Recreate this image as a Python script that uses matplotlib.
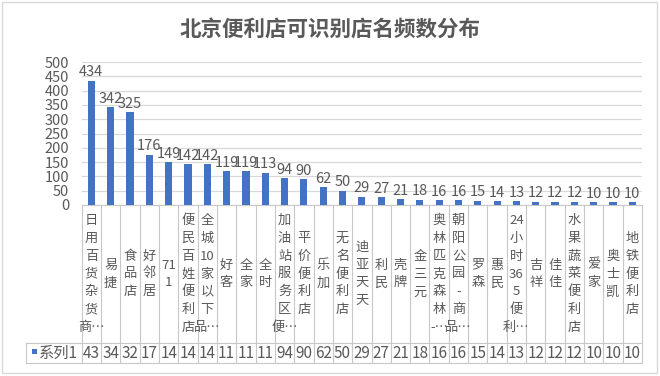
import matplotlib
matplotlib.use("Agg")
import matplotlib.pyplot as plt
from matplotlib.patches import Rectangle
from matplotlib.lines import Line2D
from matplotlib.transforms import blended_transform_factory

# ---- data ----
title = "北京便利店可识别店名频数分布"
series_name = "系列1"
# category labels as Excel wraps them inside the data-table cells
categories = [
    "日\n用\n百\n货\n杂\n货\n商…", "易\n捷", "食\n品\n店", "好\n邻\n居", "71\n1",
    "便\n民\n百\n姓\n便\n利\n店", "全\n城\n10\n家\n以\n下\n品…", "好\n客", "全\n家", "全\n时",
    "加\n油\n站\n服\n务\n区\n便…", "平\n价\n便\n利\n店", "乐\n加", "无\n名\n便\n利\n店", "迪\n亚\n天\n天",
    "利\n民", "壳\n牌", "金\n三\n元", "奥\n林\n匹\n克\n森\n林\n-…", "朝\n阳\n公\n园\n-\n商\n品…",
    "罗\n森", "惠\n民", "24\n小\n时\n36\n5\n便\n利…", "吉\n祥", "佳\n佳",
    "水\n果\n蔬\n菜\n便\n利\n店", "爱\n家", "奥\n士\n凯", "地\n铁\n便\n利\n店",
]
values = [434, 342, 325, 176, 149, 142, 142, 119, 119, 113, 94, 90, 62, 50, 29,
          27, 21, 18, 16, 16, 15, 14, 13, 12, 12, 12, 10, 10, 10]
# the data table cell is too narrow, Excel shows only the first two digits
table_labels = ["43", "34", "32", "17", "14", "14", "14", "11", "11", "11", "94", "90", "62", "50", "29",
                "27", "21", "18", "16", "16", "15", "14", "13", "12", "12", "12", "10", "10", "10"]
yticks = [0, 50, 100, 150, 200, 250, 300, 350, 400, 450, 500]

# ---- style ----
W, H = 660, 376
BLUE = "#4472C4"
TXT = "#595959"
GRID = "#D9D9D9"
LINE = "#C8C8C8"
NUM = ["Liberation Sans Narrow", "Noto Sans CJK SC", "DejaVu Sans"]
CJK = ["Noto Sans CJK SC", "DejaVu Sans"]
plt.rcParams["font.family"] = NUM

# pixel layout
left, right, top, bottom = 81.7, 642, 62, 205
cat_bottom, tbl_bottom, hdr_left = 343, 363, 26

fig = plt.figure(figsize=(W / 100, H / 100), dpi=100)
ax = fig.add_axes([left / W, 1 - bottom / H, (right - left) / W, (bottom - top) / H])

x = list(range(len(values)))
bars = ax.bar(x, values, width=0.37, color=BLUE, zorder=3)
ax.bar_label(bars, labels=[str(v) for v in values], padding=1, fontsize=10.5, color=TXT)

ax.set_xlim(-0.5, len(values) - 0.5)
ax.set_ylim(0, 500)
ax.set_yticks(yticks)
ax.tick_params(axis="y", length=0, pad=9, labelsize=10.5, labelcolor=TXT)
ax.set_xticks([])
ax.grid(axis="y", color=GRID, linewidth=0.9, zorder=0)
for side in ["top", "right", "left"]:
    ax.spines[side].set_visible(False)
ax.spines["bottom"].set_color(LINE)

fig.text(0.5, 1 - 29 / H, title, ha="center", va="center", fontsize=15.5,
         fontweight="bold", color=TXT, family=CJK)

# ---- data table under the axis ----
tr = blended_transform_factory(ax.transData, fig.transFigure)
fy = lambda p: 1 - p / H
fx = lambda p: p / W

for i in range(len(values) + 1):
    fig.add_artist(Line2D([i - 0.5, i - 0.5], [fy(bottom), fy(tbl_bottom)],
                          transform=tr, color=LINE, linewidth=0.8))
for yy in [cat_bottom, tbl_bottom]:
    fig.add_artist(Line2D([fx(hdr_left), fx(right)], [fy(yy), fy(yy)],
                          transform=fig.transFigure, color=LINE, linewidth=0.8))
fig.add_artist(Line2D([fx(hdr_left), fx(hdr_left)], [fy(cat_bottom), fy(tbl_bottom)],
                      transform=fig.transFigure, color=LINE, linewidth=0.8))

mid = (bottom + cat_bottom) / 2
for i, lab in enumerate(categories):
    fig.text(i, fy(mid), lab, transform=tr, ha="center", va="center", fontsize=9.5,
             color=TXT, linespacing=1.48, family=NUM)
for i, lab in enumerate(table_labels):
    fig.text(i, fy((cat_bottom + tbl_bottom) / 2), lab, transform=tr, ha="center",
             va="center", fontsize=11, color=TXT)

fig.patches.append(Rectangle((fx(32.3), fy(354)), fx(4.6), 4.6 / H, transform=fig.transFigure,
                             facecolor=BLUE, edgecolor="none"))
fig.text(fx(39), fy((cat_bottom + tbl_bottom) / 2), series_name, ha="left", va="center",
         fontsize=11, color=TXT, family=NUM)

# chart area border
fig.patches.append(Rectangle((fx(2), fy(373)), fx(655), 371 / H, transform=fig.transFigure,
                             facecolor="none", edgecolor=GRID, linewidth=1))

fig.savefig("out.png", dpi=100)
